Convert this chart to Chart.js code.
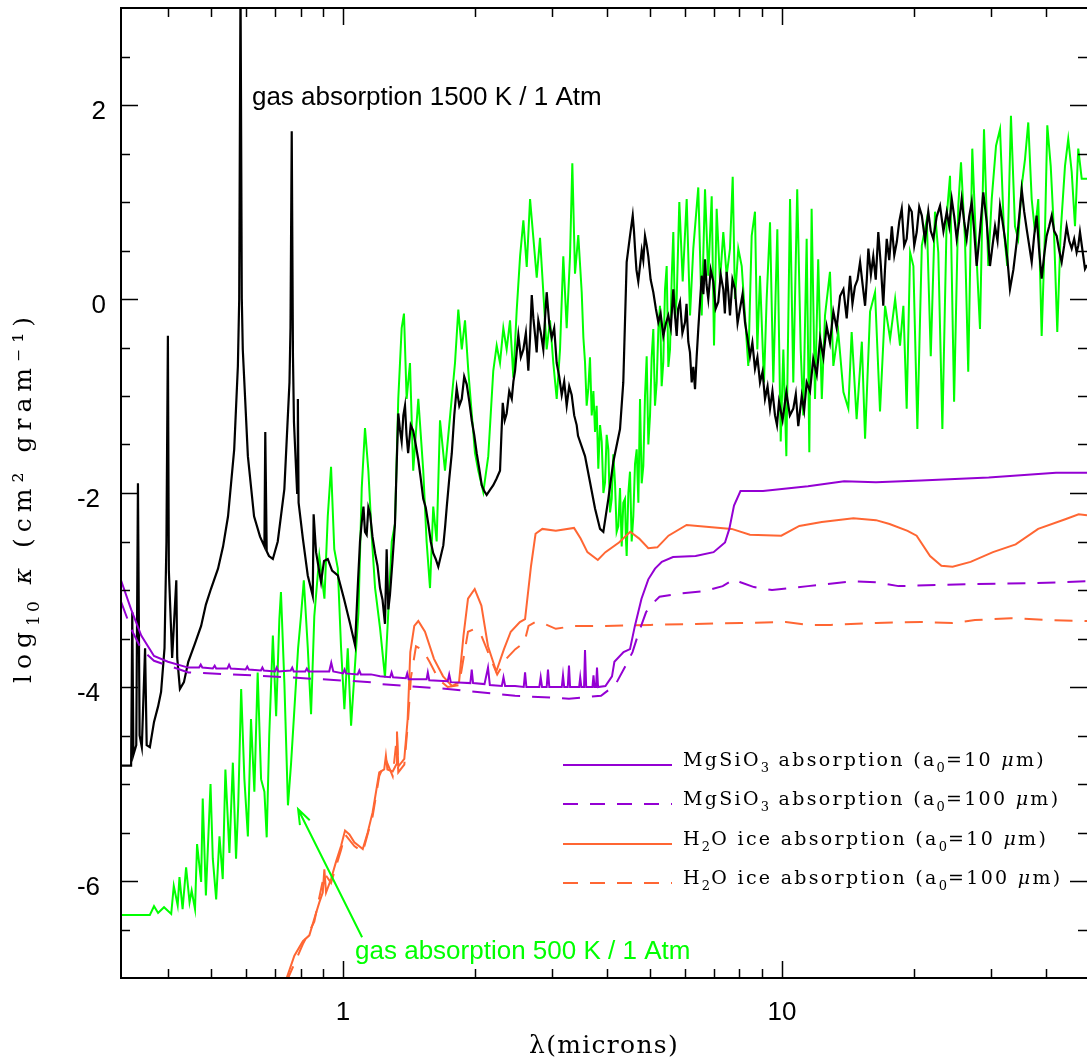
<!DOCTYPE html>
<html>
<head>
<meta charset="utf-8">
<script src="https://cdn.jsdelivr.net/npm/chart.js@4/dist/chart.umd.min.js"></script>
<style>
html, body { margin: 0; padding: 0; background: #fff; }
canvas { display: block; }
</style>
</head>
<body>
<canvas id="chart" width="1087" height="1063"></canvas>
<script>
// [wavelength in microns, log10 kappa]
const gas1500 = [
  [0.312,-4.81],[0.329,-4.81],[0.331,-3.23],[0.333,-4.70],[0.338,-4.60],[0.341,-1.90],[0.344,-4.50],[0.348,-4.62],
  [0.354,-3.60],[0.357,-4.60],[0.363,-4.62],[0.371,-4.36],[0.379,-4.20],[0.385,-4.05],[0.392,-3.60],[0.396,-2.50],
  [0.399,-0.38],[0.401,-2.80],[0.408,-3.70],[0.417,-2.90],[0.419,-3.70],[0.425,-4.02],[0.434,-3.95],[0.444,-3.74],
  [0.460,-3.55],[0.475,-3.37],[0.487,-3.15],[0.500,-2.99],[0.519,-2.78],[0.533,-2.55],[0.547,-2.24],[0.565,-1.55],
  [0.576,-0.69],[0.580,0.00],[0.584,3.30],[0.588,0.00],[0.591,-0.52],[0.607,-1.62],[0.627,-2.24],[0.647,-2.45],
  [0.662,-2.55],[0.665,-1.37],[0.670,-2.60],[0.678,-2.65],[0.692,-2.68],[0.710,-2.50],[0.735,-1.96],[0.755,-0.86],
  [0.759,-0.30],[0.764,1.73],[0.769,-0.60],[0.773,-1.27],[0.786,-2.00],[0.789,-1.03],[0.792,-2.10],[0.810,-2.47],
  [0.831,-2.85],[0.853,-3.06],[0.857,-2.22],[0.868,-2.61],[0.891,-2.92],[0.905,-2.70],[0.923,-2.68],[0.944,-2.80],
  [0.973,-2.85],[1.005,-3.09],[1.038,-3.35],[1.065,-3.57],[1.082,-2.90],[1.093,-2.50],[1.103,-2.30],[1.113,-2.14],
  [1.122,-2.40],[1.132,-2.43],[1.142,-2.15],[1.152,-2.21],[1.167,-2.45],[1.183,-2.62],[1.198,-2.75],[1.214,-2.98],
  [1.230,-3.10],[1.246,-3.35],[1.257,-2.58],[1.268,-3.20],[1.279,-3.05],[1.296,-2.70],[1.313,-2.32],[1.325,-1.70],
  [1.336,-1.18],[1.348,-1.35],[1.360,-1.47],[1.372,-1.20],[1.384,-1.10],[1.395,-1.40],[1.407,-1.59],[1.426,-1.30],
  [1.445,-1.36],[1.464,-1.50],[1.484,-1.66],[1.503,-1.85],[1.523,-2.06],[1.543,-2.15],[1.564,-2.32],[1.584,-2.50],
  [1.605,-2.62],[1.626,-2.68],[1.648,-2.76],[1.670,-2.65],[1.692,-2.54],[1.708,-2.35],[1.723,-2.14],[1.746,-1.85],
  [1.769,-1.59],[1.792,-1.20],[1.815,-0.92],[1.840,-1.10],[1.864,-1.03],[1.888,-0.80],[1.913,-0.88],[1.938,-1.05],
  [1.964,-1.25],[1.990,-1.40],[2.016,-1.59],[2.043,-1.75],[2.070,-1.92],[2.097,-1.98],[2.124,-2.02],[2.160,-1.97],
  [2.199,-1.92],[2.238,-1.85],[2.278,-1.77],[2.295,-1.40],[2.311,-1.07],[2.335,-1.25],[2.359,-1.18],[2.391,-0.95],
  [2.423,-1.03],[2.444,-0.85],[2.465,-0.74],[2.486,-0.55],[2.508,-0.37],[2.541,-0.60],[2.575,-0.52],[2.609,-0.35],
  [2.643,-0.74],[2.667,-0.40],[2.691,0.04],[2.714,-0.20],[2.738,-0.37],[2.761,-0.55],[2.785,-0.22],[2.822,-0.35],
  [2.859,-0.52],[2.885,-0.20],[2.910,0.07],[2.949,-0.25],[2.988,-0.40],[3.027,-0.30],[3.067,-0.66],[3.108,-0.80],
  [3.149,-0.99],[3.190,-0.85],[3.232,-1.10],[3.275,-0.90],[3.318,-0.99],[3.362,-1.20],[3.406,-1.30],[3.430,-1.41],
  [3.558,-1.62],[3.653,-1.89],[3.750,-2.16],[3.850,-2.37],[3.917,-2.40],[4.021,-2.06],[4.127,-1.68],[4.275,-1.34],
  [4.349,-0.86],[4.427,0.38],[4.505,0.65],[4.570,0.86],[4.600,0.70],[4.625,0.52],[4.660,0.30],[4.705,0.18],
  [4.750,0.35],[4.791,0.50],[4.830,0.40],[4.874,0.65],[4.920,0.55],[4.959,0.44],[5.020,0.20],[5.091,0.07],
  [5.160,-0.10],[5.226,-0.24],[5.290,-0.15],[5.365,-0.38],[5.440,-0.25],[5.507,-0.17],[5.580,-0.30],[5.654,0.10],
  [5.700,-0.15],[5.755,-0.38],[5.800,-0.10],[5.856,-0.03],[5.930,-0.35],[6.012,-0.24],[6.060,-0.05],[6.116,-0.44],
  [6.170,-0.55],[6.227,-0.86],[6.280,-0.70],[6.336,-0.93],[6.390,-0.60],[6.445,-0.31],[6.500,-0.05],[6.562,0.24],
  [6.620,0.05],[6.677,0.41],[6.730,0.15],[6.792,0.00],[6.880,0.30],[6.973,0.18],[7.060,-0.10],[7.158,-0.03],
  [7.250,0.25],[7.349,0.10],[7.410,-0.15],[7.480,0.28],[7.550,0.05],[7.612,-0.17],[7.710,0.20],[7.814,0.10],
  [7.920,-0.25],[8.022,-0.10],[8.130,0.05],[8.235,-0.24],[8.340,-0.40],[8.454,-0.59],[8.560,-0.45],[8.678,-0.72],
  [8.790,-0.60],[8.909,-0.86],[9.030,-0.75],[9.146,-1.03],[9.270,-0.90],[9.390,-1.13],[9.510,-0.95],[9.639,-1.20],
  [9.740,-1.30],[9.843,-1.06],[10.03,-1.25],[10.23,-0.96],[10.42,-1.20],[10.61,-1.13],[10.75,-0.98],[10.89,-1.31],
  [11.09,-1.00],[11.23,-1.15],[11.38,-0.86],[11.58,-0.95],[11.78,-0.62],[12.00,-0.78],[12.21,-0.41],[12.42,-0.60],
  [12.64,-0.28],[12.86,-0.45],[13.09,-0.13],[13.32,-0.30],[13.56,0.03],[13.80,0.10],[14.04,-0.20],[14.29,0.24],
  [14.47,-0.05],[14.66,0.13],[14.86,0.20],[15.06,0.38],[15.26,0.15],[15.46,-0.07],[15.60,0.20],[15.73,0.52],
  [15.94,0.25],[16.14,0.44],[16.35,0.20],[16.57,0.69],[16.79,0.35],[17.01,-0.07],[17.16,0.30],[17.32,0.62],
  [17.55,0.40],[17.79,0.75],[18.02,0.45],[18.26,0.59],[18.50,0.80],[18.74,0.93],[18.98,0.55],[19.23,0.62],
  [19.49,0.95],[19.75,0.90],[20.01,0.55],[20.27,0.69],[20.54,0.95],[20.82,0.86],[21.18,0.60],[21.54,0.90],
  [21.82,0.70],[22.11,0.62],[22.51,0.85],[22.91,0.96],[23.32,0.70],[23.73,0.90],[24.04,0.75],[24.36,1.03],
  [24.68,0.85],[25.00,0.62],[25.33,0.80],[25.66,1.03],[26.00,0.80],[26.34,0.62],[26.69,0.85],[27.05,1.00],
  [27.40,0.70],[27.76,0.34],[28.25,0.70],[28.74,1.10],[29.25,0.80],[29.77,0.34],[30.17,0.55],[30.57,0.75],
  [30.97,0.60],[31.38,0.96],[31.79,0.80],[32.21,0.62],[32.63,0.40],[33.06,0.10],[33.65,0.30],[34.25,0.59],
  [34.70,0.85],[35.16,1.13],[35.62,0.90],[36.09,0.72],[36.57,0.55],[37.05,0.38],[37.53,0.65],[38.02,0.86],
  [38.53,0.50],[39.04,0.21],[39.55,0.45],[40.07,0.65],[40.61,0.75],[41.15,0.86],[41.69,0.70],[42.24,0.65],
  [42.80,0.50],[43.36,0.38],[43.93,0.55],[44.50,0.75],[45.10,0.60],[45.70,0.52],[46.30,0.62],[46.90,0.48],
  [47.31,0.55],[47.73,0.69],[48.36,0.50],[49.00,0.31],[49.52,0.35]
]

const gas500 = [
  [0.312,-6.35],[0.363,-6.35],[0.371,-6.26],[0.379,-6.33],[0.391,-6.27],[0.406,-6.34],[0.4115,-6.05],[0.420,-6.25],
  [0.424,-5.96],[0.431,-6.29],[0.439,-5.86],[0.447,-6.22],[0.452,-6.10],[0.460,-6.29],[0.465,-5.62],[0.475,-6.01],
  [0.479,-5.15],[0.487,-6.15],[0.499,-5.00],[0.505,-5.77],[0.514,-6.19],[0.523,-5.54],[0.532,-5.98],[0.5395,-4.85],
  [0.551,-5.71],[0.561,-4.78],[0.5705,-5.77],[0.577,-5.22],[0.586,-4.02],[0.596,-4.95],[0.607,-5.54],[0.617,-4.33],
  [0.628,-5.08],[0.639,-3.85],[0.6505,-4.95],[0.662,-5.08],[0.670,-5.55],[0.679,-4.50],[0.692,-3.47],[0.704,-4.30],
  [0.716,-3.30],[0.722,-3.02],[0.735,-3.95],[0.749,-5.22],[0.761,-4.80],[0.773,-4.30],[0.790,-3.60],[0.802,-3.27],
  [0.814,-2.90],[0.831,-3.59],[0.8455,-4.28],[0.860,-3.27],[0.883,-2.65],[0.907,-3.09],[0.923,-2.24],[0.939,-1.73],
  [0.955,-2.58],[0.973,-2.78],[0.9895,-3.59],[1.007,-4.23],[1.025,-3.60],[1.043,-4.40],[1.061,-3.88],[1.084,-3.24],
  [1.103,-1.95],[1.122,-1.33],[1.142,-1.77],[1.162,-2.43],[1.183,-2.98],[1.214,-3.39],[1.246,-3.90],[1.2675,-3.24],
  [1.291,-2.50],[1.313,-2.32],[1.336,-1.03],[1.360,-0.30],[1.3765,-0.15],[1.396,-1.03],[1.4206,-0.66],[1.445,-1.77],
  [1.484,-1.03],[1.523,-1.77],[1.550,-2.50],[1.578,-2.98],[1.605,-2.14],[1.634,-2.50],[1.663,-1.25],[1.707,-1.77],
  [1.753,-1.21],[1.799,-0.66],[1.8305,-0.11],[1.864,-0.52],[1.896,-0.22],[1.929,-0.74],[1.964,-1.18],[1.998,-1.59],
  [2.033,-1.77],[2.087,-1.99],[2.142,-1.62],[2.199,-0.74],[2.2386,-0.48],[2.278,-0.66],[2.318,-0.30],[2.359,-0.52],
  [2.401,-0.22],[2.443,-0.81],[2.487,-0.11],[2.531,0.44],[2.575,0.81],[2.621,0.33],[2.667,1.03],[2.7135,0.63],
  [2.762,0.22],[2.810,0.63],[2.859,0.07],[2.910,-0.52],[2.9615,-0.22],[3.013,-0.66],[3.067,-1.03],[3.121,-0.52],
  [3.175,0.44],[3.232,-0.30],[3.289,0.44],[3.329,1.40],[3.376,0.26],[3.4346,0.66],[3.497,0.07],[3.528,-0.40],
  [3.558,-0.65],[3.589,-1.10],[3.6195,-0.93],[3.652,-0.60],[3.6856,-1.20],[3.718,-0.95],[3.750,-1.37],[3.782,-1.10],
  [3.815,-1.75],[3.850,-1.30],[3.884,-1.47],[3.918,-2.00],[3.952,-1.89],[3.986,-1.40],[4.021,-1.55],[4.057,-2.20],
  [4.093,-2.06],[4.128,-1.60],[4.164,-1.89],[4.200,-2.40],[4.237,-2.34],[4.275,-1.95],[4.313,-2.55],[4.350,-2.10],
  [4.388,-2.06],[4.408,-2.45],[4.427,-2.65],[4.466,-2.00],[4.505,-1.78],[4.545,-2.50],[4.584,-2.24],[4.625,-1.70],
  [4.666,-1.55],[4.707,-2.10],[4.748,-1.03],[4.790,-1.90],[4.831,-1.72],[4.874,-1.00],[4.917,-0.59],[4.960,-1.50],
  [5.004,-1.20],[5.047,-0.60],[5.091,-0.31],[5.136,-1.10],[5.182,-0.86],[5.228,-0.30],[5.273,-0.07],[5.319,-0.90],
  [5.365,-0.65],[5.413,0.10],[5.461,0.34],[5.509,-0.70],[5.557,-0.52],[5.605,0.20],[5.654,0.69],[5.704,-0.20],
  [5.755,0.00],[5.835,1.00],[5.940,0.18],[6.065,1.03],[6.172,-0.17],[6.279,0.52],[6.445,1.15],[6.562,-0.17],
  [6.677,1.13],[6.792,0.24],[6.9155,1.06],[7.000,-0.48],[7.098,0.93],[7.223,0.18],[7.349,0.69],[7.480,0.24],
  [7.612,0.52],[7.721,1.26],[7.814,0.00],[7.950,0.52],[8.094,0.34],[8.235,-0.17],[8.378,-0.69],[8.529,0.65],
  [8.678,0.90],[8.785,-0.52],[8.909,0.24],[9.098,-0.86],[9.226,0.00],[9.390,0.79],[9.553,-0.86],[9.757,0.72],
  [9.931,-1.47],[10.07,-0.52],[10.23,-1.62],[10.43,1.03],[10.61,-0.86],[10.83,1.13],[11.03,-0.52],[11.18,-1.20],
  [11.38,0.62],[11.54,-1.58],[11.68,0.93],[11.89,-1.03],[12.09,0.41],[12.32,-1.03],[12.53,-0.17],[12.86,0.28],
  [13.09,-0.69],[13.43,-0.34],[13.80,-0.96],[14.16,-1.13],[14.41,-0.34],[14.79,-1.24],[15.20,-0.44],[15.46,-1.44],
  [15.87,-0.13],[16.29,0.07],[16.72,-1.16],[17.17,-0.07],[17.63,-0.41],[18.10,0.00],[18.57,-0.48],[18.90,-0.07],
  [19.23,-1.13],[19.58,0.48],[19.92,0.34],[20.34,-1.34],[20.82,0.55],[21.37,0.82],[21.82,-0.59],[22.31,0.90],
  [22.70,0.48],[23.19,-1.34],[23.73,0.86],[24.14,1.27],[24.66,-1.06],[25.21,0.96],[25.57,1.41],[26.11,0.62],
  [26.56,-0.75],[27.13,1.55],[27.76,0.41],[28.25,-0.31],[28.85,1.75],[29.50,0.34],[30.04,1.03],[30.73,1.58],
  [31.38,1.75],[32.04,0.69],[32.59,0.34],[33.23,1.89],[33.94,0.75],[34.52,0.62],[35.16,1.17],[35.77,1.44],
  [36.39,1.82],[37.05,1.03],[37.69,0.69],[38.35,1.03],[39.04,-0.38],[39.72,0.69],[40.21,1.79],[40.94,1.37],
  [41.65,0.69],[42.37,-0.34],[43.13,0.69],[44.12,1.37],[44.88,1.65],[45.70,1.31],[46.50,0.75],[47.30,1.55],
  [48.16,1.24],[49.52,1.24]
]

const mgsio3Small = [
  [0.312,-2.90],[0.329,-3.20],[0.347,-3.47],[0.371,-3.68],[0.399,-3.74],[0.444,-3.80],
  [0.470,-3.80],[0.474,-3.77],[0.478,-3.80],[0.505,-3.81],[0.510,-3.78],[0.514,-3.81],
  [0.545,-3.81],[0.550,-3.77],[0.555,-3.81],[0.600,-3.82],[0.605,-3.79],[0.610,-3.82],
  [0.650,-3.83],[0.655,-3.80],[0.660,-3.83],[0.700,-3.84],[0.706,-3.80],[0.712,-3.84],
  [0.760,-3.83],[0.766,-3.80],[0.772,-3.84],[0.820,-3.84],[0.827,-3.81],[0.834,-3.84],
  [0.930,-3.84],[0.940,-3.75],[0.950,-3.84],[1.000,-3.86],[1.008,-3.82],[1.016,-3.86],
  [1.080,-3.87],[1.089,-3.83],[1.098,-3.87],[1.158,-3.87],[1.214,-3.89],
  [1.280,-3.90],[1.290,-3.85],[1.300,-3.90],[1.390,-3.91],[1.400,-3.86],[1.410,-3.92],
  [1.550,-3.92],[1.560,-3.85],[1.572,-3.93],[1.731,-3.94],[1.745,-3.87],[1.760,-3.95],
  [1.950,-3.96],[1.964,-3.82],[1.978,-3.96],[2.100,-3.97],[2.139,-3.80],[2.160,-3.98],
  [2.300,-3.99],[2.320,-3.90],[2.340,-3.99],[2.465,-3.99],[2.580,-4.00],[2.598,-3.85],[2.616,-4.00],
  [2.800,-4.00],[2.820,-3.90],[2.840,-4.00],[2.910,-4.00],[2.930,-3.82],[2.950,-4.00],
  [3.150,-4.00],[3.170,-3.88],[3.190,-4.00],[3.250,-4.00],[3.271,-3.78],[3.290,-4.00],
  [3.450,-4.00],[3.470,-3.90],[3.490,-4.00],[3.540,-4.00],[3.558,-3.62],[3.580,-4.00],
  [3.700,-4.00],[3.720,-3.88],[3.740,-4.00],[3.770,-4.00],[3.789,-3.80],[3.810,-4.00],
  [3.960,-3.99],[4.099,-3.89],[4.151,-3.74],[4.355,-3.64],[4.505,-3.61],[4.622,-3.37],[4.785,-3.09],
  [4.959,-2.89],[5.137,-2.78],[5.323,-2.71],[5.645,-2.66],[6.356,-2.65],[6.984,-2.61],[7.415,-2.51],
  [7.585,-2.37],[7.774,-2.13],[8.042,-1.98],[9.050,-1.98],[11.46,-1.93],[13.85,-1.88],[16.37,-1.89],
  [20.74,-1.87],[29.57,-1.84],[42.09,-1.79],[49.52,-1.79]
]

const mgsio3Large = [
  [0.312,-3.12],[0.329,-3.40],[0.347,-3.61],[0.371,-3.73],[0.444,-3.85],[0.627,-3.88],[0.891,-3.92],
  [1.158,-3.95],[1.214,-3.97],[1.731,-4.02],[2.465,-4.09],[3.271,-4.12],[3.870,-4.09],[4.057,-4.02],
  [4.203,-3.95],[4.404,-3.78],[4.565,-3.64],[4.723,-3.43],[4.900,-3.23],[5.017,-3.16],[5.259,-3.07],
  [5.783,-3.04],[6.663,-3.01],[7.326,-2.96],[7.774,-2.89],[8.042,-2.92],[8.633,-2.97],[9.489,-3.00],
  [11.46,-2.96],[14.51,-2.91],[16.37,-2.92],[18.43,-2.96],[26.25,-2.94],[37.44,-2.93],[49.52,-2.91]
]

const iceSmall = [
  [0.7416,-7.02],[0.7746,-6.77],[0.810,-6.62],[0.838,-6.56],[0.860,-6.39],[0.883,-6.22],[0.899,-6.12],
  [0.9066,-5.88],[0.9147,-6.12],[0.939,-5.98],[0.964,-5.80],[0.9895,-5.64],[1.0105,-5.48],[1.034,-5.52],
  [1.061,-5.60],[1.109,-5.67],[1.138,-5.50],[1.168,-5.29],[1.189,-5.08],[1.209,-4.88],[1.241,-4.85],
  [1.252,-4.71],[1.262,-4.85],[1.2975,-4.87],[1.322,-4.80],[1.327,-4.46],[1.336,-4.82],[1.379,-4.74],
  [1.4035,-4.33],[1.423,-3.64],[1.453,-3.37],[1.484,-3.32],[1.537,-3.43],[1.611,-3.71],[1.690,-3.89],
  [1.771,-3.99],[1.8375,-3.95],[1.881,-3.47],[1.926,-3.09],[1.995,-2.99],[2.066,-3.16],[2.139,-3.58],
  [2.234,-3.84],[2.326,-3.61],[2.410,-3.43],[2.528,-3.33],[2.598,-3.30],[2.681,-2.75],[2.745,-2.42],
  [2.844,-2.37],[3.053,-2.39],[3.359,-2.36],[3.477,-2.47],[3.603,-2.61],[3.805,-2.69],[3.960,-2.61],
  [4.252,-2.51],[4.510,-2.40],[4.728,-2.47],[4.959,-2.57],[5.199,-2.56],[5.513,-2.44],[6.062,-2.33],
  [6.818,-2.35],[7.680,-2.37],[8.450,-2.43],[9.963,-2.44],[10.95,-2.34],[12.32,-2.30],[14.54,-2.26],
  [16.37,-2.28],[17.58,-2.32],[19.32,-2.39],[20.26,-2.44],[21.74,-2.65],[23.07,-2.75],[24.47,-2.76],
  [26.89,-2.71],[30.24,-2.61],[34.06,-2.53],[38.33,-2.37],[44.19,-2.27],[47.40,-2.22],[49.52,-2.23]
]

const iceLarge = [
  [0.7416,-7.05],[0.810,-6.65],[0.860,-6.42],[0.9066,-5.92],[0.939,-6.02],[0.9895,-5.68],[1.0105,-5.52],
  [1.061,-5.64],[1.109,-5.70],[1.168,-5.33],[1.209,-4.92],[1.252,-4.75],[1.2975,-4.92],[1.327,-4.50],
  [1.336,-4.88],[1.379,-4.80],[1.4035,-4.40],[1.428,-3.90],[1.466,-3.58],[1.519,-3.62],[1.574,-3.74],
  [1.651,-3.92],[1.731,-4.00],[1.8375,-3.98],[1.926,-3.43],[1.995,-3.40],[2.066,-3.47],[2.139,-3.64],
  [2.2445,-3.87],[2.353,-3.71],[2.469,-3.61],[2.589,-3.54],[2.6455,-3.37],[2.745,-3.33],[2.879,-3.35],
  [3.053,-3.40],[3.359,-3.37],[3.960,-3.37],[5.017,-3.36],[6.356,-3.35],[8.042,-3.34],[10.20,-3.33],
  [11.48,-3.36],[12.92,-3.36],[16.37,-3.34],[20.74,-3.33],[24.47,-3.34],[27.52,-3.31],[33.23,-3.29],
  [40.14,-3.31],[49.52,-3.32]
]

const xMajorTicks = [1, 10]
const xMinorTicks = [0.4, 0.5, 0.6, 0.7, 0.8, 0.9, 2, 3, 4, 5, 6, 7, 8, 9, 20, 30, 40]
const yMajorTicks = [-6, -4, -2, 0, 2]
const yMinorTicks = [-6.5, -5.5, -5, -4.5, -3.5, -3, -2.5, -1.5, -1, -0.5, 0.5, 1, 1.5, 2.5]

const hotLabel = { text: 'gas absorption 1500 K / 1 Atm', at: [0.62, 2.0] }
const coolLabel = { text: 'gas absorption 500 K / 1 Atm', at: [1.065, -6.8] }
const coolArrow = { from: [1.105, -6.58], to: [0.79, -5.26] }

const PURPLE = '#9400d3'
const ORANGE = '#ff6633'
const GREEN = '#00ff00'
const SERIF = '"DejaVu Serif", serif'
const SANS = '"Liberation Sans", Arial, sans-serif'

const legendRows = [
  { color: PURPLE, dash: [], runs: [['MgSiO'], ['3', 'sub'], [' absorption (a'], ['0', 'sub'], ['=10 '], ['\u03bc', 'it'], ['m)']] },
  { color: PURPLE, dash: [15, 12], runs: [['MgSiO'], ['3', 'sub'], [' absorption (a'], ['0', 'sub'], ['=100 '], ['\u03bc', 'it'], ['m)']] },
  { color: ORANGE, dash: [], runs: [['H'], ['2', 'sub'], ['O ice absorption (a'], ['0', 'sub'], ['=10 '], ['\u03bc', 'it'], ['m)']] },
  { color: ORANGE, dash: [15, 12], runs: [['H'], ['2', 'sub'], ['O ice absorption (a'], ['0', 'sub'], ['=100 '], ['\u03bc', 'it'], ['m)']] }
]

function runFont(kind, size) {
  if (kind === 'sub') return `${Math.round(size * 0.68)}px ${SERIF}`
  if (kind === 'it') return `italic ${size}px ${SERIF}`
  return `${size}px ${SERIF}`
}

// draws text runs char by char so the wide plotting-font spacing can be mimicked
function drawRuns(ctx, runs, x, y, size, spacing, measureOnly) {
  let w = 0
  for (const [t, kind] of runs) {
    ctx.font = runFont(kind, size)
    const dy = kind === 'sub' ? size * 0.3 : 0
    for (const ch of t) {
      if (!measureOnly) ctx.fillText(ch, x + w, y + dy)
      w += ctx.measureText(ch).width + (kind === 'sub' ? spacing * 0.5 : spacing)
    }
  }
  return w
}

const decorations = {
  id: 'decorations',
  afterDraw(chart) {
    const { ctx, chartArea: a, scales: { x, y } } = chart
    ctx.save()
    ctx.strokeStyle = '#000'
    ctx.fillStyle = '#000'

    // tick marks, inward on all four sides
    ctx.lineWidth = 1.5
    ctx.beginPath()
    const xTick = (v, len) => {
      const px = Math.round(x.getPixelForValue(v)) + 0.5
      ctx.moveTo(px, a.bottom); ctx.lineTo(px, a.bottom - len)
      ctx.moveTo(px, a.top); ctx.lineTo(px, a.top + len)
    }
    const yTick = (v, len) => {
      const py = Math.round(y.getPixelForValue(v)) + 0.5
      ctx.moveTo(a.left, py); ctx.lineTo(a.left + len, py)
      ctx.moveTo(a.right, py); ctx.lineTo(a.right - len, py)
    }
    xMinorTicks.forEach(v => xTick(v, 9))
    xMajorTicks.forEach(v => xTick(v, 17))
    yMinorTicks.forEach(v => yTick(v, 9))
    yMajorTicks.forEach(v => yTick(v, 17))
    ctx.stroke()

    // frame (right edge falls outside the picture)
    ctx.lineWidth = 2
    ctx.beginPath()
    ctx.moveTo(a.right + 4, a.top)
    ctx.lineTo(a.left, a.top)
    ctx.lineTo(a.left, a.bottom)
    ctx.lineTo(a.right + 4, a.bottom)
    ctx.stroke()

    // tick labels
    ctx.font = `26px ${SANS}`
    ctx.textBaseline = 'alphabetic'
    ctx.textAlign = 'center'
    for (const v of xMajorTicks) {
      ctx.fillText(String(v), x.getPixelForValue(v), a.bottom + 42)
    }
    ctx.textAlign = 'right'
    for (const v of yMajorTicks) {
      ctx.fillText(String(v), a.left - (v < 0 ? 21 : 15), y.getPixelForValue(v) + 14)
    }

    // axis titles
    ctx.textAlign = 'left'
    const xTitle = [['\u03bb(microns)']]
    const xtw = drawRuns(ctx, xTitle, 0, 0, 25, 1.3, true)
    drawRuns(ctx, xTitle, (a.left + a.right) / 2 - xtw / 2, 1053, 25, 1.3)

    const yTitle = [['log'], ['10', 'sub'], [' '], ['\u03ba', 'it'], [' (cm\u00b2 gram\u207b\u00b9)']]
    ctx.save()
    ctx.translate(31, 497)
    ctx.rotate(-Math.PI / 2)
    const ytw = drawRuns(ctx, yTitle, 0, 0, 25, 6, true)
    drawRuns(ctx, yTitle, -ytw / 2, 0, 25, 6)
    ctx.restore()

    // annotations
    ctx.font = `26px ${SANS}`
    ctx.fillStyle = '#000'
    ctx.fillText(hotLabel.text, x.getPixelForValue(hotLabel.at[0]), y.getPixelForValue(hotLabel.at[1]))
    ctx.fillStyle = GREEN
    ctx.fillText(coolLabel.text, x.getPixelForValue(coolLabel.at[0]), y.getPixelForValue(coolLabel.at[1]))

    const x0 = x.getPixelForValue(coolArrow.from[0]), y0 = y.getPixelForValue(coolArrow.from[1])
    const x1 = x.getPixelForValue(coolArrow.to[0]), y1 = y.getPixelForValue(coolArrow.to[1])
    const ang = Math.atan2(y1 - y0, x1 - x0)
    ctx.strokeStyle = GREEN
    ctx.lineWidth = 2
    ctx.beginPath()
    ctx.moveTo(x0, y0); ctx.lineTo(x1, y1)
    ctx.moveTo(x1 - 16 * Math.cos(ang - 0.35), y1 - 16 * Math.sin(ang - 0.35))
    ctx.lineTo(x1, y1)
    ctx.lineTo(x1 - 16 * Math.cos(ang + 0.35), y1 - 16 * Math.sin(ang + 0.35))
    ctx.stroke()

    // legend
    const rowsY = [765, 804, 844, 883]
    ctx.fillStyle = '#000'
    legendRows.forEach((row, i) => {
      ctx.strokeStyle = row.color
      ctx.lineWidth = 2
      ctx.setLineDash(row.dash)
      ctx.beginPath()
      ctx.moveTo(563, rowsY[i]); ctx.lineTo(672, rowsY[i])
      ctx.stroke()
      ctx.setLineDash([])
      drawRuns(ctx, row.runs, 683, rowsY[i] + 1, 19, 2.3)
    })
    ctx.restore()
  }
}

const toPoints = rows => rows.map(([w, k]) => ({ x: w, y: k }))
const line = (rows, color, dash, width) => ({
  data: toPoints(rows),
  showLine: true,
  borderColor: color,
  backgroundColor: color,
  borderWidth: width,
  borderDash: dash,
  pointRadius: 0,
  tension: 0
})

new Chart(document.getElementById('chart'), {
  type: 'scatter',
  data: {
    datasets: [
      line(mgsio3Small, PURPLE, [], 2),
      line(mgsio3Large, PURPLE, [18, 12], 2),
      line(iceSmall, ORANGE, [], 2),
      line(iceLarge, ORANGE, [18, 12], 2),
      line(gas1500, '#000', [], 2.2),
      line(gas500, GREEN, [], 2)
    ]
  },
  options: {
    responsive: false,
    animation: false,
    events: [],
    layout: { padding: { left: 121, top: 8, right: 0, bottom: 85 } },
    plugins: { legend: { display: false }, tooltip: { enabled: false } },
    scales: {
      x: { type: 'logarithmic', bounds: 'data', min: 0.312, max: 49.52, display: false },
      y: { type: 'linear', min: -7, max: 3, display: false }
    }
  },
  plugins: [decorations]
})
</script>
</body>
</html>
